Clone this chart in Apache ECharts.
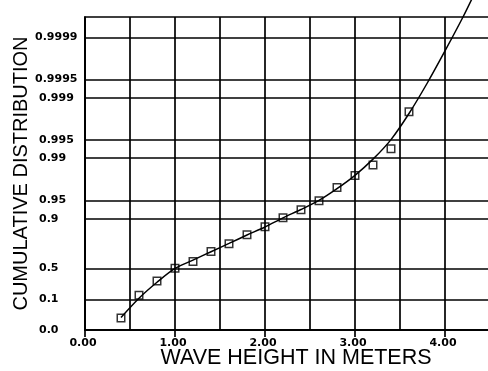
<!DOCTYPE html>
<html>
<head>
<meta charset="utf-8">
<script src="https://cdn.jsdelivr.net/npm/echarts@6/dist/echarts.min.js"></script>
<style>
  html, body { margin: 0; padding: 0; background: #fff; }
  #chart { width: 488px; height: 371px; }
</style>
</head>
<body>
<div id="chart"></div>
<script>
// Observed wave heights (m) and their cumulative distribution
const waveHeights = [0.4, 0.6, 0.8, 1.0, 1.2, 1.4, 1.6, 1.8, 2.0, 2.2, 2.4, 2.6, 2.8, 3.0, 3.2, 3.4, 3.6];
const observedCdf = [0.0095, 0.142, 0.324, 0.50, 0.587, 0.6935, 0.7635, 0.8253, 0.8686,
                     0.9046, 0.9294, 0.9495, 0.9691, 0.9805, 0.9869, 0.99295, 0.99829];

// Fitted distribution curve
const fitHeights = [0.4, 0.6, 0.8, 1.0, 1.2, 1.4, 1.6, 1.8, 2.0, 2.2, 2.4, 2.6, 2.8,
                    3.0, 3.2, 3.4, 3.6, 3.8, 4.0, 4.2, 4.3];
const fitCdf = [0.01034, 0.1129, 0.3057, 0.4977, 0.6026, 0.6922, 0.7656, 0.8237, 0.8674,
                0.9046, 0.9298, 0.9500, 0.9678, 0.98055, 0.98949, 0.99502, 0.998166,
                0.999419, 0.9998334, 0.9999546, 0.9999775];

// Probability levels marked on the vertical axis
const probLevels = [0, 0.1, 0.5, 0.9, 0.95, 0.99, 0.995, 0.999, 0.9995, 0.9999];
const probLabels = ['0.0', '0.1', '0.5', '0.9', '0.95', '0.99', '0.995', '0.999', '0.9995', '0.9999'];

// Height axis labels
const heightLabels = [0, 1, 2, 3, 4];

// Gumbel (extreme value) probability paper: reduced variate -ln(-ln p)
const Y_MIN = -2, Y_MAX = 10;
const gumbel = p => (p <= 0 ? Y_MIN : -Math.log(-Math.log(p)));

const levelValues = probLevels.map(gumbel);

const BLACK = '#000';
const gridLine = { color: BLACK, width: 1.7 };
const labelFont = { fontFamily: 'DejaVu Sans', fontWeight: 'bold', fontSize: 11, color: BLACK };

const chart = echarts.init(document.getElementById('chart'), null, { renderer: 'canvas' });

chart.setOption({
  animation: false,
  backgroundColor: '#fff',
  grid: {
    left: 85, right: -2, top: 17, bottom: 41,
    outerBoundsMode: 'none',
    containLabel: false,
    show: true, borderColor: BLACK, borderWidth: 1.7, backgroundColor: 'transparent'
  },
  xAxis: [
    {
      type: 'value', min: 0, max: 4.5, interval: 0.5,
      axisLine: { show: true, onZero: false, lineStyle: gridLine },
      axisTick: { show: false },
      axisLabel: { show: false },
      splitLine: { show: true, lineStyle: gridLine }
    },
    {
      type: 'value', min: 0, max: 4.5, interval: 1, position: 'bottom', gridIndex: 0,
      axisLine: { show: false, onZero: false },
      axisTick: { show: true, inside: false, length: 7, lineStyle: gridLine },
      axisLabel: Object.assign({
        margin: 8,
        padding: [0, 4, 0, 0],
        formatter: v => (heightLabels.indexOf(v) >= 0 ? v.toFixed(2) : '')
      }, labelFont),
      splitLine: { show: false },
      name: 'WAVE HEIGHT IN METERS',
      nameLocation: 'middle',
      nameMoveOverlap: false,
      nameGap: 17,
      nameTextStyle: {
        fontFamily: 'Liberation Sans', fontSize: 21.5, color: BLACK,
        padding: [0, 0, 0, 17]
      }
    }
  ],
  yAxis: {
    type: 'value', min: Y_MIN, max: Y_MAX,
    axisLine: { show: true, onZero: false, lineStyle: gridLine },
    axisTick: { show: false, customValues: levelValues },
    axisLabel: Object.assign({
      customValues: levelValues,
      align: 'left',
      margin: 50,
      formatter: v => {
        let idx = 0, best = Infinity;
        levelValues.forEach((lv, i) => {
          const d = Math.abs(lv - v);
          if (d < best) { best = d; idx = i; }
        });
        const txt = probLabels[idx];
        return txt.length >= 6 ? '{w|' + txt + '}' : '{s|' + txt + '}';
      },
      rich: {
        w: Object.assign({}, labelFont),
        s: Object.assign({ padding: [0, 0, 0, 4] }, labelFont)
      }
    }, labelFont),
    splitLine: { show: true, lineStyle: gridLine },
    name: 'CUMULATIVE DISTRIBUTION',
    nameLocation: 'middle',
    nameMoveOverlap: false,
    nameGap: 54,
    nameTextStyle: { fontFamily: 'Liberation Sans', fontSize: 20, color: BLACK }
  },
  series: [
    {
      name: 'fit',
      type: 'line',
      xAxisIndex: 0,
      data: fitHeights.map((h, i) => [h, gumbel(fitCdf[i])]),
      smooth: 0.3,
      showSymbol: false,
      clip: false,
      lineStyle: { color: BLACK, width: 1.5 },
      z: 3
    },
    {
      name: 'observed',
      type: 'scatter',
      xAxisIndex: 0,
      data: waveHeights.map((h, i) => [h, gumbel(observedCdf[i])]),
      symbol: 'rect',
      symbolSize: 7.5,
      itemStyle: { color: 'rgba(0,0,0,0)', borderColor: BLACK, borderWidth: 1.5 },
      z: 4
    }
  ]
});
</script>
</body>
</html>
